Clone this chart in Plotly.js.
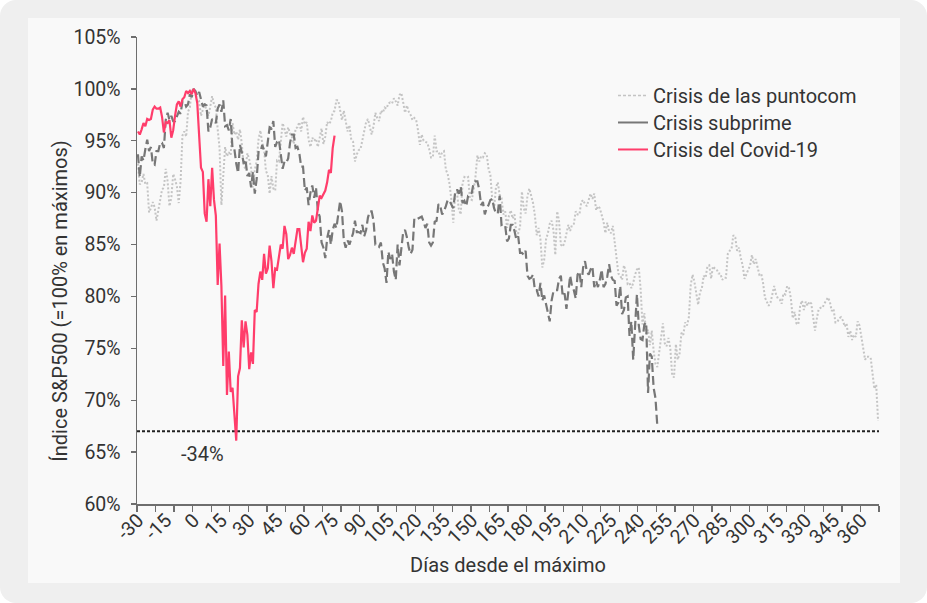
<!DOCTYPE html>
<html>
<head>
<meta charset="utf-8">
<script src="https://cdn.plot.ly/plotly-3.0.1.min.js"></script>
<style>
html, body { margin: 0; padding: 0; background: #ffffff; }
#frame { position: absolute; left: 0; top: 0; width: 927px; height: 603px; background: #efefef; border-radius: 16px; overflow: hidden; }
#panel { position: absolute; left: 28px; top: 18px; width: 872px; height: 565px; background: #f9f9f9; }
#chart { position: absolute; left: 0; top: 0; width: 927px; height: 603px; }
</style>
</head>
<body>
<div id="frame"><div id="panel"></div></div>
<div id="chart"></div>
<script>
// ---- DATA (S&P 500 as % of its peak; one value per trading day, starting 30 days before the peak) ----
const firstDay = -30;

const seriesNames = ["Crisis de las puntocom", "Crisis subprime", "Crisis del Covid-19"];

const puntocom = [
  92.8, 90.8, 91.0, 91.8, 90.8, 90.9, 88.1, 88.5, 89.1, 88.6,
  87.3, 88.3, 89.5, 90.3, 90.5, 92.3, 91.1, 88.7, 89.5, 91.8,
  91.3, 90.6, 89.0, 91.1, 95.5, 95.9, 95.4, 97.8, 98.2, 100.0,
  100.0,
  99.8, 98.7, 98.8, 97.4, 98.1, 98.6, 97.9, 97.4, 98.3, 99.3,
  98.5, 98.2, 96.1, 94.3, 88.8, 91.7, 94.4, 93.5, 93.9, 93.6,
  96.7, 95.6, 95.9, 95.1, 96.1, 94.7, 92.6, 92.3, 93.8, 93.2,
  92.4, 90.5, 92.2, 93.0, 95.1, 96.0, 94.8, 94.1, 92.1, 91.7,
  89.9, 91.6, 90.4, 90.2, 93.1, 93.0, 94.9, 96.7, 96.1, 95.4,
  96.3, 95.7, 95.4, 94.7, 96.2, 96.3, 96.8, 95.9, 97.3, 96.6,
  96.8, 95.1, 94.4, 95.3, 95.0, 95.2, 94.4, 95.2, 96.2, 94.7,
  95.4, 96.8, 96.6, 96.9, 97.7, 97.9, 98.9, 98.9, 97.8, 97.0,
  97.9, 96.9, 95.9, 96.5, 95.1, 94.9, 93.0, 93.7, 94.1, 94.2,
  95.1, 95.8, 96.8, 97.1, 96.4, 95.6, 96.4, 97.7, 97.2, 96.9,
  97.9, 97.7, 98.2, 98.1, 98.6, 98.7, 98.6, 99.1, 98.8, 98.4,
  99.4, 99.6,
  98.7, 97.7, 98.4, 97.8, 97.5, 97.0, 97.2, 97.0,
  96.0, 94.6, 95.6, 95.0, 94.9, 94.8, 94.2, 93.4, 93.4, 95.5,
  94.0, 94.0, 93.4, 93.9, 94.0, 92.2, 91.8, 90.8, 89.3, 87.1,
  90.0, 90.0, 88.4, 87.9, 90.9, 91.5, 91.4, 91.5, 89.4, 89.3,
  90.3, 91.6, 93.6, 93.0, 93.5, 93.4, 93.8, 93.7, 92.3, 91.7,
  89.4, 88.5, 90.5, 91.0, 89.8, 89.5, 87.9, 88.2, 86.6, 87.8,
  88.3, 87.5, 87.9, 86.1, 86.1, 86.7, 90.1, 88.5, 88.0, 89.7,
  90.4, 89.8, 89.0, 87.8, 85.9, 86.6, 85.5, 82.8, 83.5, 85.5,
  86.1, 87.0, 87.3, 86.4,
  84.0, 88.2, 87.3, 85.0, 84.8, 85.2,
  86.0, 86.9, 86.3, 86.9, 87.0, 88.2, 87.9, 87.9, 89.1, 89.3,
  88.9, 88.7, 89.3, 89.9, 89.4, 89.9, 88.3, 88.7, 88.5, 87.8,
  87.2, 86.1, 87.1, 86.3, 86.1, 86.8, 85.2, 83.7, 82.2, 82.0,
  81.6, 83.0, 82.4, 81.2, 81.3, 80.8, 81.3, 82.1, 82.6, 82.8,
  80.7, 77.3, 78.4, 76.4, 76.8, 75.3, 76.7, 74.8, 73.5, 73.2,
  74.6, 75.5, 77.4, 75.5, 75.2, 76.0, 75.0, 72.4, 72.2, 75.4,
  73.9, 74.5, 76.5, 76.3, 77.5, 77.2, 78.0, 81.1, 82.1, 81.4,
  80.2, 79.2, 80.4, 80.8, 82.0, 81.8, 82.9, 83.0, 81.7, 82.9,
  82.7, 82.6, 82.2, 82.2, 81.6, 81.8, 81.8, 84.1, 84.4, 84.6,
  85.9, 85.7, 84.4, 84.7, 83.7, 83.0, 81.7, 82.2, 82.5, 83.0,
  84.0, 83.1, 83.6, 82.8, 82.1, 82.2, 81.3, 79.9, 79.5, 79.1,
  79.4, 80.1, 81.0, 80.2, 79.8, 79.7, 79.3, 80.3, 80.2, 81.0,
  80.8, 79.8, 77.9, 78.5, 77.4, 77.3, 79.1, 79.6, 78.7, 79.5,
  79.1, 79.5, 79.3, 78.0, 76.7, 77.9, 78.8, 78.9, 78.9, 79.3,
  79.6, 79.9, 79.5, 78.6, 78.8, 77.5, 77.5, 77.9, 78.0, 77.7,
  77.1, 77.4, 76.1, 76.7, 75.8, 76.3, 76.1, 77.6, 77.2, 76.0,
  75.2, 73.9, 74.2, 74.2, 74.1, 72.4, 71.1, 71.5, 68.0
];

const subprime = [
  93.7, 91.5, 93.5, 93.1, 94.2, 95.1, 94.0, 94.4, 92.8, 92.7,
  94.0, 94.0, 94.8, 94.8, 94.3, 97.0, 97.7, 97.0, 97.4, 96.9,
  96.9, 97.4, 97.8, 97.6, 98.8, 98.8, 98.3, 98.5, 99.5, 99.2,
  100.0,
  99.8, 99.3, 99.7, 98.9, 98.3, 98.5, 98.4, 95.9, 96.3, 97.1,
  96.9, 96.7, 98.1, 98.5, 97.8, 98.9, 96.4, 96.5, 96.0, 97.1,
  94.2, 94.2, 92.8, 91.9, 94.6, 93.9, 92.8, 93.2, 91.6, 91.9,
  90.5, 92.0, 89.9, 91.3, 93.9, 93.9, 94.6, 94.1, 93.5, 94.9,
  96.3, 96.2, 96.9, 94.4, 94.9, 95.1, 93.7, 92.3, 93.0, 92.9,
  93.3, 94.8, 95.6, 95.6, 94.3, 94.4, 93.8,
  92.5, 92.5, 90.2, 90.5, 88.8, 90.0, 90.7, 89.5, 90.5, 88.2,
  87.7, 85.2, 84.7, 83.7, 85.6, 86.4, 85.0, 86.4, 87.0, 86.6,
  88.1, 89.2, 88.2, 85.4, 84.7, 85.4, 85.0, 85.6, 86.1, 87.3,
  86.2, 86.2, 86.1, 86.9, 85.8, 86.4, 87.6, 88.2, 88.2, 87.3,
  85.0, 85.0, 84.8, 85.2, 83.3, 82.7, 81.3, 84.3, 83.6, 84.1,
  82.4, 81.6, 85.0, 83.0, 85.0, 86.2, 86.4, 85.7, 84.7, 84.1,
  84.5,
  87.5, 87.4, 87.5, 87.6, 87.7, 87.2, 86.6, 87.0, 85.2, 84.9,
  85.2, 87.2, 87.3, 88.9, 88.7, 87.9, 88.2, 88.7, 89.3, 89.2,
  88.9, 88.5, 90.0, 90.3, 89.9, 90.6, 89.0, 89.2, 88.7, 89.7,
  89.7, 90.0, 91.0, 91.1, 91.1, 90.3, 88.8, 89.1, 87.9, 88.5,
  88.8, 89.3, 89.4, 88.5, 88.0, 88.0, 89.7, 86.9, 87.0, 86.8,
  85.3, 85.6, 86.9, 86.9, 86.3, 85.5, 85.8, 84.2, 84.2, 84.0,
  84.4, 82.0, 81.7, 81.8,
  82.1, 80.6, 80.6, 80.0, 81.3, 79.6, 80.1, 79.2, 78.5, 77.6,
  79.6, 80.5, 80.6, 80.6, 81.7, 82.0, 80.0, 80.3, 78.8, 80.7,
  82.0, 81.0, 80.6, 79.8, 82.1, 82.4, 80.9, 82.8, 83.4, 82.4,
  82.1, 82.6, 82.9, 80.9, 81.5, 80.9, 81.6, 82.6, 80.9, 81.2,
  81.9, 83.1, 82.0, 81.6, 81.5, 79.1, 79.4, 81.0, 78.3, 78.7,
  79.9, 80.0, 76.2, 77.6, 73.9, 77.1, 80.2, 77.2, 75.9, 75.8,
  77.3, 77.5, 70.7, 74.5, 74.2, 71.2, 70.2, 67.5
];

const covid = [
  95.9, 95.6, 96.1, 96.7, 96.4, 97.1, 97.0, 97.1, 98.0, 98.3,
  98.1, 98.1, 98.2, 97.3, 95.8, 96.8, 96.7, 97.0, 95.3, 96.0,
  97.4, 98.5, 98.8, 98.3, 99.0, 99.2, 99.8, 99.6, 99.8, 99.5,
  100.0,
  99.6, 98.6, 95.3, 92.4, 92.0, 88.0, 87.2, 91.3, 88.7, 92.4,
  89.3, 87.8, 81.1, 85.1, 81.0, 73.3, 80.1, 70.5, 74.7, 70.8,
  71.2, 68.1, 66.1, 72.3, 73.1, 77.7, 75.1, 77.6, 76.3, 73.0,
  74.6, 73.5, 78.7, 78.5, 81.2, 82.4, 81.6, 84.1, 82.2, 82.7,
  84.9, 83.4, 80.8, 82.7, 82.6, 83.8, 85.0, 84.6, 86.8, 86.0,
  83.6, 84.0, 84.7, 84.1, 85.1, 86.5, 86.5, 84.8, 83.3, 84.2,
  84.6, 87.2, 86.3, 87.8, 87.1, 87.3, 88.4, 89.7, 89.5, 89.9,
  90.2, 91.0, 92.2, 91.9, 94.3, 95.5
];

// Tick labels of the day axis (every 15 trading days)
const dayLabels = [-30, -15, 0, 15, 30, 45, 60, 75, 90, 105, 120, 135, 150, 165, 180,
                   195, 210, 225, 240, 255, 270, 285, 300, 315, 330, 345, 360];

// Reference level (dotted line) and its label
const troughLevel = 67;
const troughText = "-34%";
const troughLabelPos = { day: 4.7, value: 64.8 };

// Titles
const xTitle = "Días desde el máximo";
const yTitle = "Índice S&P500 (=100% en máximos)";

// Axis
const xRange = [-30.5, 369.5];   // 400 trading-day categories
const yRange = [60, 105];

// ---- STYLES ----
const colPunto = "#c4c4c4";
const colSub = "#777777";
const colCovid = "#ff3d6b";
const textCol = "#333333";
const axisCol = "#6e6e6e";
const fontFam = "Roboto, 'Open Sans', sans-serif";

function dayAxis(arr) { return arr.map((_, i) => i + firstDay); }

const traces = [
  { x: dayAxis(puntocom), y: puntocom, type: "scatter", mode: "lines",
    line: { color: colPunto, width: 2, dash: "2px,2px" }, showlegend: false, hoverinfo: "skip" },
  { x: dayAxis(subprime), y: subprime, type: "scatter", mode: "lines",
    line: { color: colSub, width: 2.2, dash: "9px,4px" }, showlegend: false, hoverinfo: "skip" },
  { x: dayAxis(covid), y: covid, type: "scatter", mode: "lines",
    line: { color: colCovid, width: 2.2 }, showlegend: false, hoverinfo: "skip" },
  // legend entries (legend samples drawn as in the original)
  { x: [null], y: [null], xaxis: "x2", type: "scatter", mode: "lines", name: seriesNames[0], legend: "legend",
    line: { color: colPunto, width: 1.6, dash: "3px,2px" } },
  { x: [null], y: [null], xaxis: "x2", type: "scatter", mode: "lines", name: seriesNames[1], legend: "legend2",
    line: { color: colSub, width: 2 } },
  { x: [null], y: [null], xaxis: "x2", type: "scatter", mode: "lines", name: seriesNames[2], legend: "legend3",
    line: { color: colCovid, width: 2 } }
];

function legendAt(yPaper) {
  return {
    x: 0.6415, xanchor: "left", y: yPaper, yanchor: "top",
    bgcolor: "rgba(0,0,0,0)", borderwidth: 0,
    font: { family: fontFam, size: 20, color: textCol }
  };
}

const layout = {
  width: 927, height: 603,
  margin: { l: 137, r: 48, t: 37, b: 99, pad: 0 },
  paper_bgcolor: "rgba(0,0,0,0)",
  plot_bgcolor: "rgba(0,0,0,0)",
  font: { family: fontFam, color: textCol, size: 19 },
  showlegend: true,
  legend: legendAt(0.9165),
  legend2: legendAt(0.8587),
  legend3: legendAt(0.8009),
  xaxis: {
    range: xRange, tickmode: "linear", tick0: -30.5, dtick: 10,
    ticks: "outside", ticklen: 6, tickwidth: 1.3, tickcolor: axisCol,
    showticklabels: false, showline: true, linecolor: axisCol, linewidth: 1.5,
    showgrid: false, zeroline: false, fixedrange: true
  },
  xaxis2: {
    overlaying: "x", anchor: "y", side: "bottom",
    range: xRange, tickmode: "array", tickvals: dayLabels, ticktext: dayLabels.map(String),
    ticks: "", showline: false, showgrid: false, zeroline: false,
    tickangle: -45, tickfont: { family: fontFam, size: 19.5, color: textCol },
    title: { text: xTitle, font: { family: fontFam, size: 20, color: textCol }, standoff: 10 },
    fixedrange: true
  },
  yaxis: {
    range: yRange, tickmode: "linear", tick0: 60, dtick: 5, ticksuffix: "%",
    ticks: "outside", ticklen: 5, tickwidth: 1.3, tickcolor: axisCol,
    ticklabelstandoff: 6,
    tickfont: { family: fontFam, size: 19.5, color: textCol },
    showline: true, linecolor: axisCol, linewidth: 1.5,
    showgrid: false, zeroline: false, fixedrange: true
  },
  shapes: [
    { type: "line", xref: "paper", x0: 0, x1: 1, yref: "y", y0: troughLevel, y1: troughLevel,
      line: { color: "#222222", width: 2, dash: "3px,2px" }, layer: "below" }
  ],
  annotations: [
    { x: troughLabelPos.day, y: troughLabelPos.value, xref: "x", yref: "y", text: troughText,
      showarrow: false, font: { family: fontFam, size: 20, color: textCol } },
    // y-axis title, centred on the chart panel as in the original
    { text: yTitle, textangle: -90, xref: "paper", yref: "paper",
      x: -0.104, xanchor: "center", y: 0.435, yanchor: "middle", showarrow: false,
      font: { family: fontFam, size: 20, color: textCol } }
  ]
};

Plotly.newPlot("chart", traces, layout, { displayModeBar: false, staticPlot: true });
</script>
</body>
</html>
